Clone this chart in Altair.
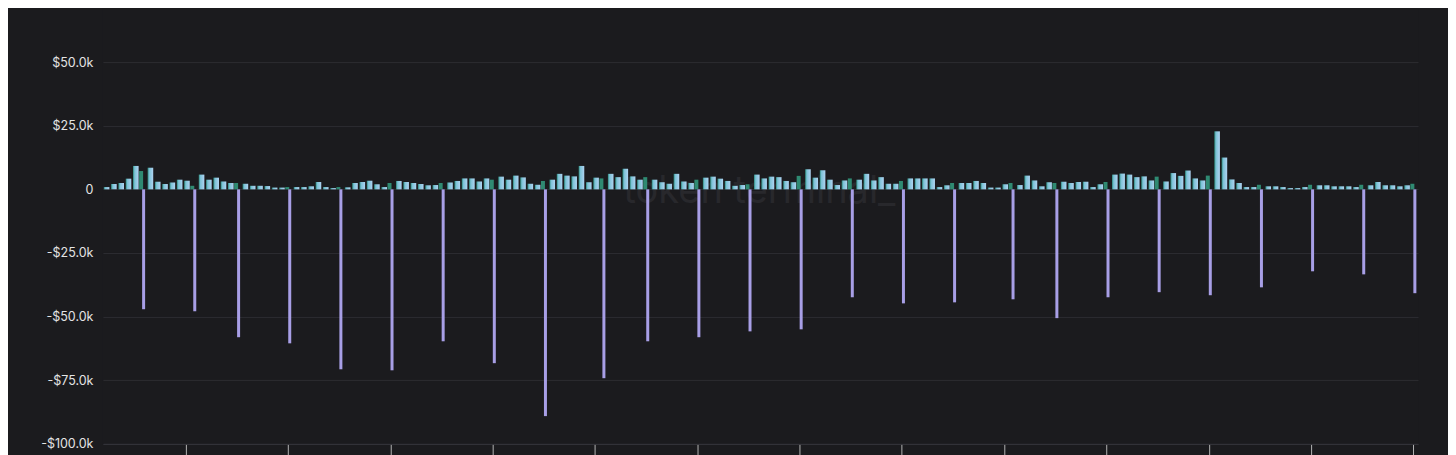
import altair as alt
import pandas as pd

# Daily positive values (thousands of $), day index 0..179
daily_k = [
    0.9, 2.1, 2.5, 4.2, 9.2, 7.2, 8.5, 3.0, 2.1, 2.7,
    3.8, 3.4, 1.4, 5.8, 3.8, 4.6, 3.1, 2.5, 2.5, 2.2,
    1.4, 1.4, 1.3, 0.7, 0.7, 0.9, 0.9, 0.9, 1.2, 2.9,
    0.9, 0.5, 0.9, 0.8, 2.5, 2.9, 3.4, 2.0, 0.9, 2.5,
    3.3, 2.9, 2.5, 2.1, 1.6, 1.7, 2.5, 2.7, 3.3, 4.3,
    4.3, 3.1, 4.3, 3.8, 5.0, 3.8, 5.4, 4.7, 2.2, 1.8,
    3.3, 3.8, 6.1, 5.4, 5.1, 9.2, 2.8, 4.6, 4.3, 6.1,
    4.8, 8.1, 5.1, 3.8, 4.8, 3.8, 2.8, 2.2, 6.1, 3.1,
    2.5, 3.8, 4.6, 5.0, 4.2, 3.3, 1.4, 1.7, 2.0, 5.8,
    4.3, 5.0, 4.8, 3.3, 2.8, 5.3, 7.9, 4.6, 7.5, 3.8,
    1.7, 3.5, 4.3, 3.8, 6.1, 3.5, 4.8, 2.2, 2.2, 3.3,
    4.3, 4.3, 4.3, 4.3, 0.9, 1.6, 2.5, 2.5, 2.5, 3.3,
    2.5, 0.7, 0.7, 2.0, 2.5, 1.7, 5.4, 3.5, 1.2, 2.8,
    2.5, 3.0, 2.5, 2.9, 3.0, 0.9, 2.0, 2.9, 5.8, 6.2,
    5.8, 4.8, 5.1, 3.5, 5.0, 3.1, 6.4, 5.3, 7.4, 4.3,
    3.5, 5.4, 22.8, 12.5, 3.9, 2.5, 0.9, 0.9, 1.8, 1.2,
    1.2, 0.9, 0.5, 0.5, 0.9, 1.8, 1.6, 1.6, 1.2, 1.2,
    1.2, 0.9, 1.8, 1.6, 2.9, 1.6, 1.6, 1.2, 1.6, 2.2,
]

# Weekly negative values (thousands of $) and the day they fall on
weekly_days = [5, 12, 18, 25, 32, 39, 46, 53, 60, 68, 74, 81, 88,
               95, 102, 109, 116, 124, 130, 137, 144, 151, 158, 165, 172, 179]
weekly_k = [-47.1, -47.9, -58.1, -60.5, -70.7, -71.1, -59.7, -68.3, -89.1,
            -74.2, -59.7, -58.1, -55.8, -55.0, -42.4, -44.8, -44.4, -43.2,
            -50.6, -42.4, -40.4, -41.6, -38.5, -32.2, -33.4, -40.8]

y_ticks = [50000, 25000, 0, -25000, -50000, -75000, -100000]
x_tick_days = [10.85 + 14 * i for i in range(13)]

BG = "#1b1b1e"

wk = set(weekly_days)
daily = pd.DataFrame({
    "day": list(range(len(daily_k))),
    "value": [v * 1000 for v in daily_k],
})
daily["weekly"] = daily["day"].isin(wk)
weekly = pd.DataFrame({"day": weekly_days, "value": [v * 1000 for v in weekly_k]})

x_scale = alt.Scale(domain=[-0.5, 179.5], nice=False, zero=False, padding=0)
y_scale = alt.Scale(domain=[-100000, 71200], nice=False)

label_expr = ("datum.value == 0 ? '0' : (datum.value < 0 ? '-$' : '$') + "
              "format(abs(datum.value) / 1000, '.1f') + 'k'")

x_axis = alt.Axis(values=x_tick_days, labels=False, title=None, grid=False,
                  tickColor="#b4b4b4", tickSize=12, tickWidth=1,
                  domainColor="#34343a", domainWidth=1)
y_axis = alt.Axis(values=y_ticks, labelExpr=label_expr, title=None,
                  grid=True, gridColor="#2c2c31", gridWidth=1,
                  ticks=False, domain=False, labelPadding=10,
                  labelColor="#e4e4e4", labelFontSize=12.5, labelFont="Inter")

watermark = alt.Chart(pd.DataFrame({"t": ["token terminal_"]})).mark_text(
    font="Inter", fontSize=38, color="#28282c", align="center", baseline="middle"
).encode(text="t:N", x=alt.value(657), y=alt.value(184))

gradient = alt.Gradient(
    gradient="linear", x1=0, x2=1, y1=0, y2=0,
    stops=[alt.GradientStop(color="#2c8a7c", offset=0),
           alt.GradientStop(color="#7cc2d6", offset=0.3),
           alt.GradientStop(color="#b0d3f2", offset=1)],
)

bars = alt.Chart(daily).transform_filter("!datum.weekly").mark_bar(
    color=gradient, size=5.6
).encode(
    x=alt.X("day:Q", scale=x_scale, axis=x_axis),
    y=alt.Y("value:Q", scale=y_scale, axis=y_axis),
)

green = alt.Chart(daily).transform_filter("datum.weekly").mark_bar(
    color="#2f8a72", size=4, xOffset=-2
).encode(
    x=alt.X("day:Q", scale=x_scale),
    y=alt.Y("value:Q", scale=y_scale),
)

purple = alt.Chart(weekly).mark_rule(
    color="#a89fe6", strokeWidth=3, xOffset=0.5
).encode(
    x=alt.X("day:Q", scale=x_scale),
    y=alt.Y("value:Q", scale=y_scale),
    y2=alt.datum(0),
)

chart = alt.layer(watermark, bars, green, purple).properties(
    width=1316, height=436,
    autosize=alt.AutoSizeParams(type="none"),
    padding={"left": 95, "top": 0, "right": 30, "bottom": 11},
    background=BG,
).configure_view(stroke=None, fill=BG)

chart.save("out.html", embed_options={"renderer": "svg", "actions": False})
